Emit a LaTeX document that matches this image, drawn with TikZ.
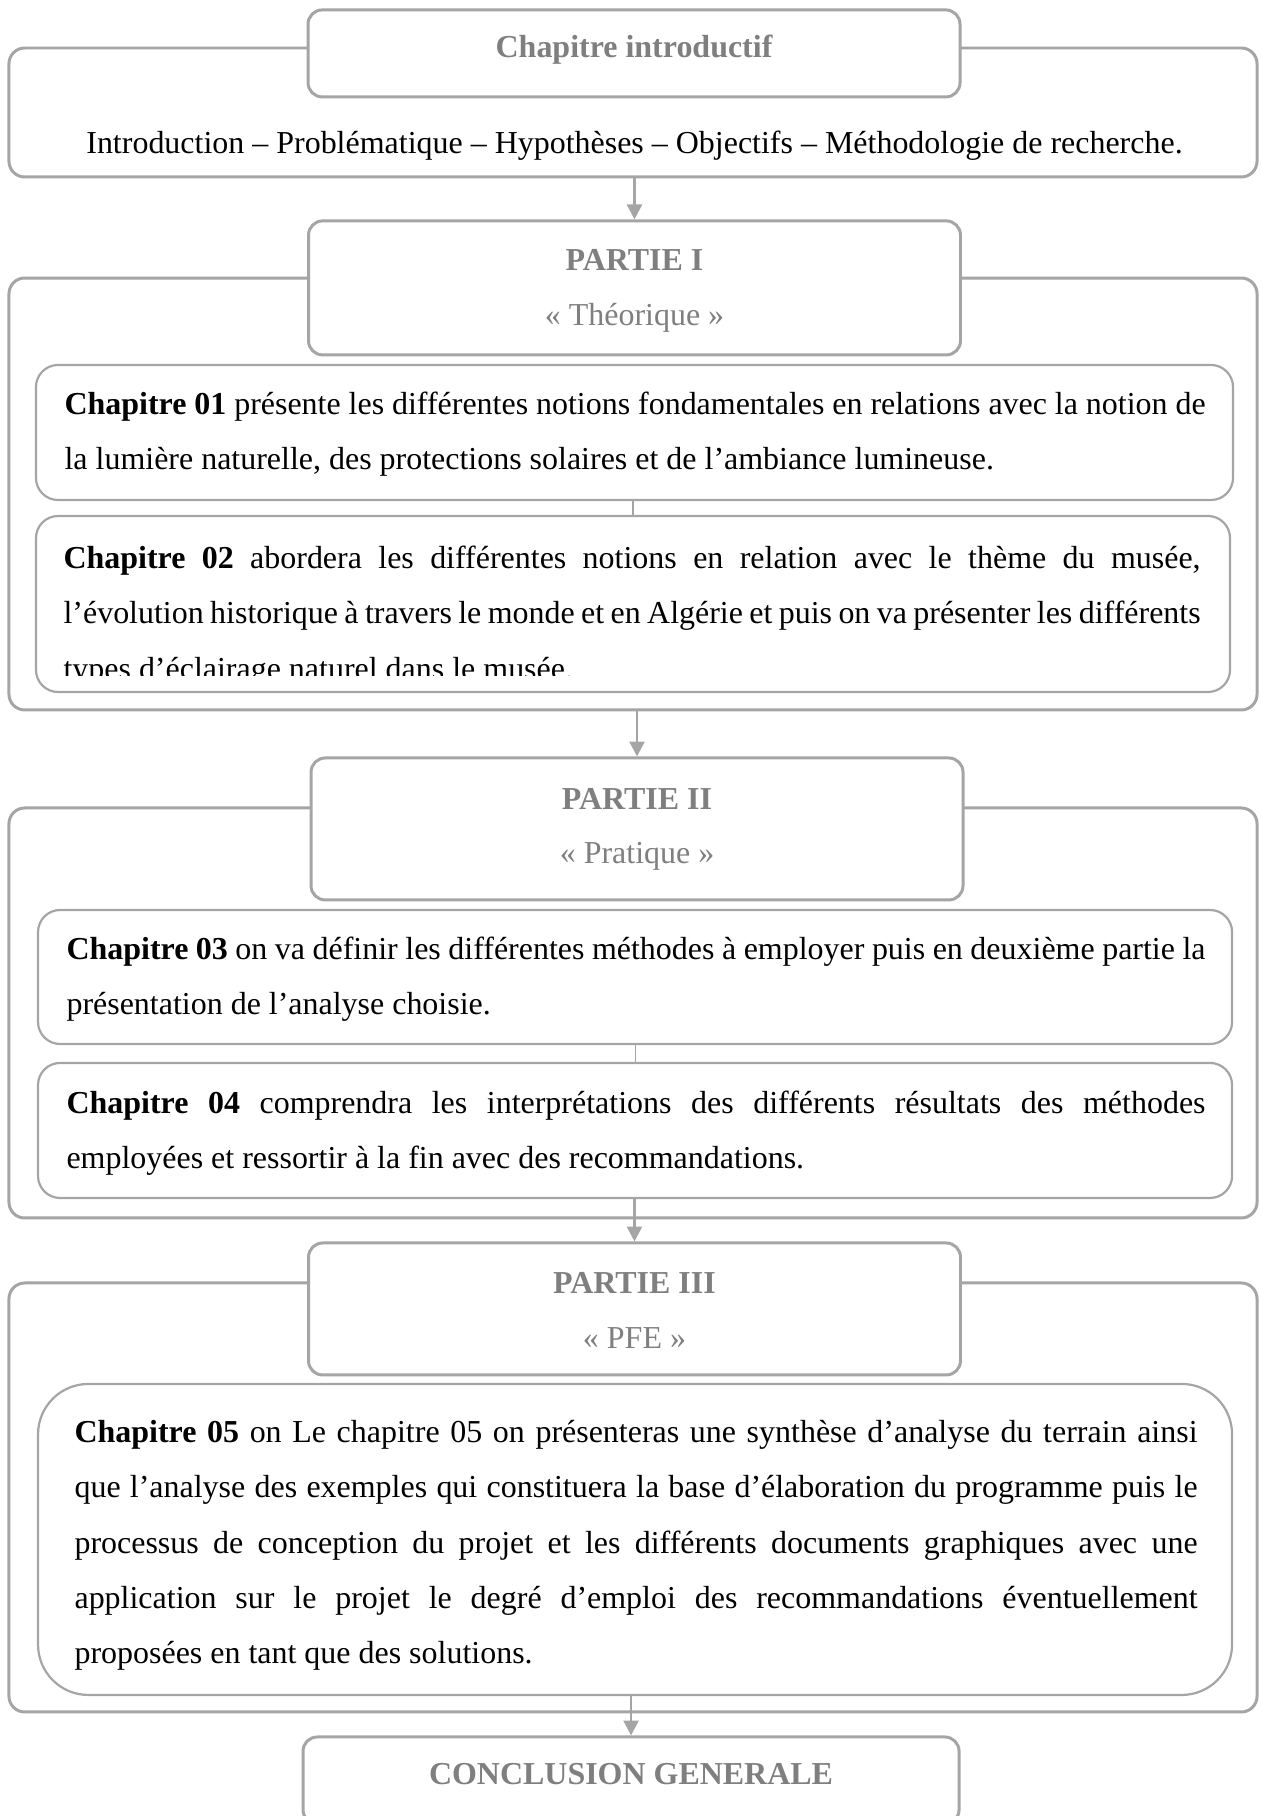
\documentclass[tikz,border=0pt]{standalone}
\usepackage{fontspec}
\setmainfont{Liberation Serif}
\usetikzlibrary{arrows.meta}

\definecolor{grisbord}{HTML}{A5A5A5}
\definecolor{gristexte}{HTML}{7F7F7F}

\tolerance=10000
\hyphenpenalty=10000
\exhyphenpenalty=10000

\tikzset{
  cadre/.style={draw=grisbord, line width=0.038cm, rounded corners=0.2cm,
    minimum width=15.850cm, inner sep=0pt},
  titre/.style={draw=grisbord, fill=white, line width=0.038cm, rounded corners=0.18cm,
    minimum width=8.280cm, inner sep=0pt},
  chapitre/.style={draw=grisbord, line width=0.028cm, rounded corners=0.28cm, inner sep=0pt},
  titretexte/.style={anchor=base, inner sep=0pt, text=gristexte,
    font=\fontsize{11.55}{14}\selectfont\bfseries},
  soustitre/.style={anchor=base, inner sep=0pt, text=gristexte,
    font=\fontsize{11.55}{14}\selectfont},
  corps/.style={anchor=base west, inner sep=0pt, align=justify,
    font=\fontsize{11.55}{20}\selectfont},
  fleche/.style={draw=grisbord, line width=0.032cm,
    -{Triangle[width=0.19cm,length=0.19cm]}},
  liaison/.style={draw=grisbord, line width=0.013cm},
}

\begin{document}
\begin{tikzpicture}
            \useasboundingbox (0,0) rectangle (16.002,23.063);
            \clip (0,0) rectangle (16.002,23.063);

            % Drawing outer frames
            \node [cadre, minimum height=1.638cm] (introcadre) at (8.039,21.634) {};%
            \node [cadre, minimum height=5.486cm] (cadre1) at (8.039,16.789) {};%
            \node [cadre, minimum height=5.207cm] (cadre2) at (8.039,10.198) {};%
            \node [cadre, minimum height=5.448cm] (cadre3) at (8.039,4.045) {};%

            % Drawing title boxes
            \node [titre, minimum height=1.105cm] (introtitre) at (8.052,22.384) {};%
            \node [titre, minimum height=1.702cm] (titre1) at (8.058,19.406) {};%
            \node [titre, minimum height=1.803cm] (titre2) at (8.090,12.535) {};%
            \node [titre, minimum height=1.676cm] (titre3) at (8.058,6.439) {};%
            \node [titre, minimum width=8.331cm, minimum height=1.105cm] (conclusion) at (8.014,0.451) {};%

            % Drawing chapter boxes
            \node [chapitre, minimum width=15.202cm, minimum height=1.715cm] (ch01) at (8.058,17.570) {};%
            \node [chapitre, minimum width=15.164cm, minimum height=2.235cm] (ch02) at (8.039,15.392) {};%
            \node [chapitre, minimum width=15.164cm, minimum height=1.702cm] (ch03) at (8.065,10.655) {};%
            \node [chapitre, minimum width=15.164cm, minimum height=1.715cm] (ch04) at (8.065,8.706) {};%
            \node [chapitre, rounded corners=0.64cm, minimum width=15.164cm, minimum height=3.950cm] (ch05) at (8.065,3.512) {};%

            % Marking titles
            \node [titretexte] (introtexte) at (8.052,22.335) {Chapitre introductif};%
            \node [titretexte] (partie1) at (8.058,19.630) {PARTIE I};%
            \node [soustitre] (sous1) at (8.058,18.927) {«~Théorique~»};%
            \node [titretexte] (partie2) at (8.090,12.784) {PARTIE II};%
            \node [soustitre] (sous2) at (8.090,12.094) {«~Pratique~»};%
            \node [titretexte] (partie3) at (8.058,6.638) {PARTIE III};%
            \node [soustitre] (sous3) at (8.058,5.935) {«~PFE~»};%
            \node [titretexte] (conclusiontexte) at (8.014,0.402) {CONCLUSION GENERALE};%

            % Marking introduction line
            \node [anchor=base, inner sep=0pt, font=\fontsize{11.55}{14}\selectfont] (introligne) at (8.058,21.114)
              {Introduction – Problématique – Hypothèses – Objectifs – Méthodologie de recherche.};%

            % Marking chapter texts
            \node [corps, text width=14.491cm] (texte01) at (0.813,17.799)
              {\textbf{Chapitre 01} présente les différentes notions fondamentales en relations avec la notion de\linebreak
               la lumière naturelle, des protections solaires et de l’ambiance lumineuse.};%
            \begin{scope}
              \clip (0.5,14.485) rectangle (15.6,16.6);
              \node [corps, text width=14.440cm] (texte02) at (0.800,15.844)
                {\textbf{Chapitre 02} abordera les différentes notions en relation avec le thème du musée,\linebreak
                 l’évolution historique à travers le monde et en Algérie et puis on va présenter les différents\linebreak
                 types d’éclairage naturel dans le musée.};%
            \end{scope}
            \node [corps, text width=14.465cm] (texte03) at (0.838,10.878)
              {\textbf{Chapitre 03} on va définir les différentes méthodes à employer puis en deuxième partie la\linebreak
               présentation de l’analyse choisie.};%
            \node [corps, text width=14.465cm] (texte04) at (0.838,8.922)
              {\textbf{Chapitre 04} comprendra les interprétations des différents résultats des méthodes\linebreak
               employées et ressortir à la fin avec des recommandations.};%
            \node [corps, text width=14.262cm] (texte05) at (0.940,4.744)
              {\textbf{Chapitre 05} on Le chapitre 05 on présenteras une synthèse d’analyse du terrain ainsi\linebreak
               que l’analyse des exemples qui constituera la base d’élaboration du programme puis le\linebreak
               processus de conception du projet et les différents documents graphiques avec une\linebreak
               application sur le projet le degré d’emploi des recommandations éventuellement\linebreak
               proposées en tant que des solutions.};%

            % Drawing connectors
            \draw [fleche] (titre1.north |- introcadre.south) -- (titre1.north);%
            \draw [liaison] (ch02.north |- ch01.south) -- (ch02.north);%
            \draw [fleche] (titre2.north |- cadre1.south) -- (titre2.north);%
            \draw [liaison] (ch04.north |- ch03.south) -- (ch04.north);%
            \draw [fleche] (titre3.north |- ch04.south) -- (titre3.north);%
            \draw [fleche] (conclusion.north |- ch05.south) -- (conclusion.north);%
\end{tikzpicture}
\end{document}
